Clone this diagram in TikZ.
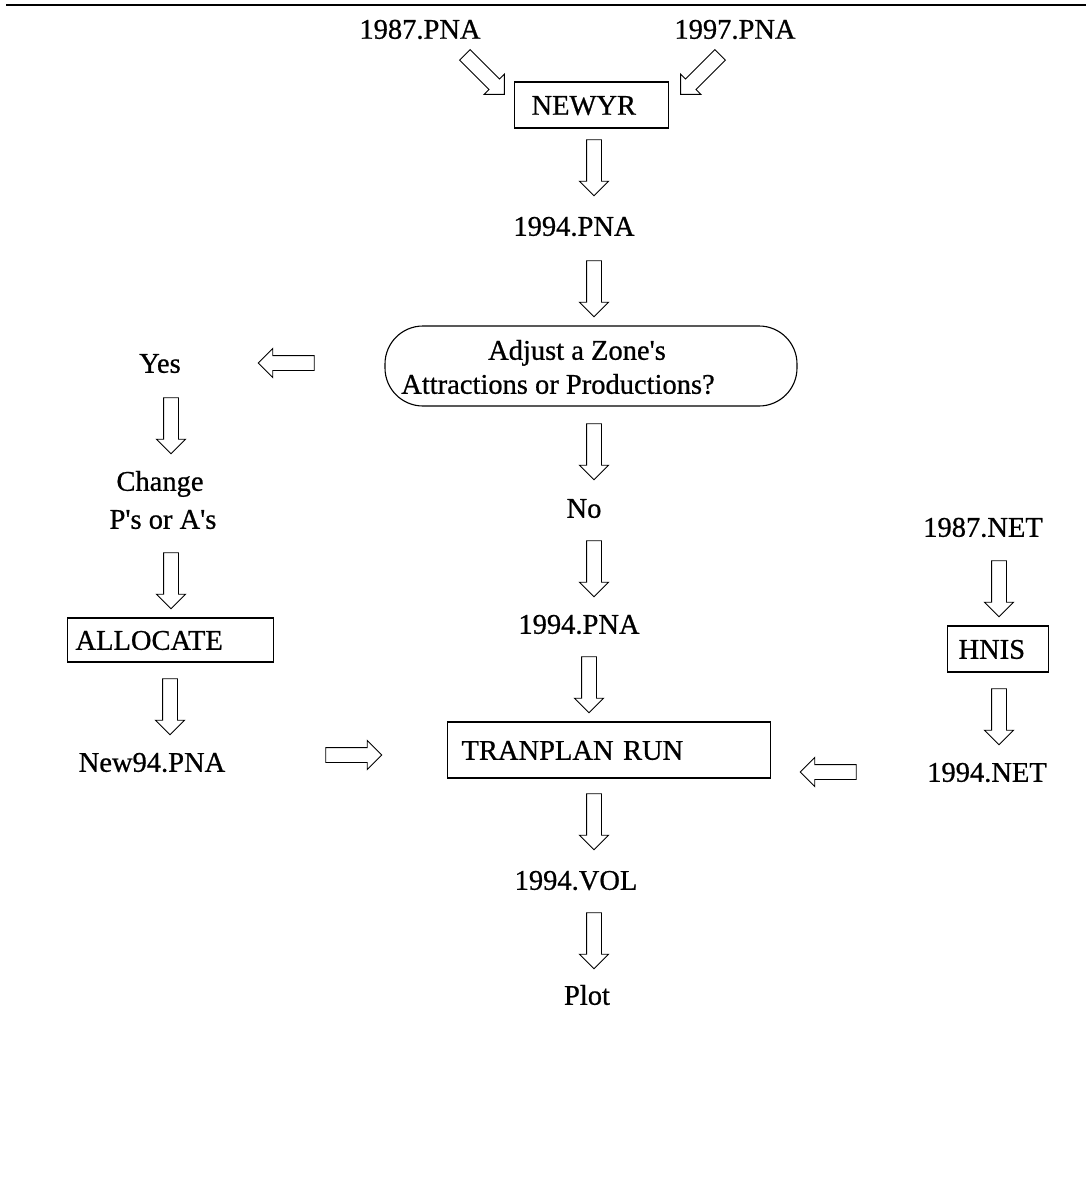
\documentclass[tikz,border=0pt]{standalone}
\usepackage{fontspec}
\setmainfont{Liberation Serif}
\newfontfamily\heavyserif[FakeBold=0.7]{Liberation Serif}
\usetikzlibrary{shapes.arrows,calc}
\begin{document}
\begin{tikzpicture}[x=1pt,y=-1pt,
  lbl/.style={font=\heavyserif\fontsize{28.5}{32}\selectfont, inner sep=0pt, text height=19.5pt, text depth=0pt},
  procbox/.style={draw, line width=1.1pt, font=\heavyserif\fontsize{28.5}{32}\selectfont, align=left, inner ysep=0pt, text height=19.5pt, text depth=0pt, anchor=west},
  stadium/.style={draw, line width=1.1pt, rounded corners=38pt, inner sep=0pt},
  barrow/.style={single arrow, draw, line width=0.9pt, inner xsep=0pt, inner ysep=7pt, single arrow head extend=7pt, single arrow tip angle=90, minimum height=56pt}]
\useasboundingbox (0,0) rectangle (1086,1177);
\draw[line width=2pt] (6,5) -- (1086,5);

% texts
\node[lbl] (p87) at (420,29) {1987.PNA};
\node[lbl] (p97) at (735,29) {1997.PNA};
\node[lbl] (p94a) at (574,226) {1994.PNA};
\node[lbl] (yes) at (160,363) {Yes};
\node[lbl] (chg1) at (160,481) {Change};
\node[lbl] (chg2) at (163,519) {P\textquotesingle s or A\textquotesingle s};
\node[lbl] (new94) at (152,762) {New94.PNA};
\node[lbl] (no) at (584,508) {No};
\node[lbl] (p94b) at (579,624) {1994.PNA};
\node[lbl] (n87) at (983,527) {1987.NET};
\node[lbl] (n94) at (987,772) {1994.NET};
\node[lbl] (vol) at (576,880) {1994.VOL};
\node[lbl] (plot) at (587,995) {Plot};

% boxes
\node[procbox, minimum height=46pt, text width=120pt, inner xsep=17pt] (newyr) at (514,105) {NEWYR};
\node[procbox, minimum height=44pt, text width=190pt, inner xsep=8pt] (alloc) at (67,640) {ALLOCATE};
\node[procbox, minimum height=56pt, text width=295pt, inner xsep=14pt] (tran) at (447,750) {TRANPLAN RUN};
\node[procbox, minimum height=46pt, text width=79pt, inner xsep=11pt] (hnis) at (947,649) {HNIS};
\node[stadium, minimum width=412pt, minimum height=80pt] (adjust) at (591,366) {};
\node[lbl] (adj1) at (577,350) {Adjust a Zone\textquotesingle s};
\node[lbl] (adj2) at (558,384) {Attractions or Productions?};

% block arrows
\node[barrow, rotate=-45] (a1) at (482,72) {};
\node[barrow, rotate=-135] (a2) at (703,72) {};
\node[barrow, rotate=-90] (a3) at (594,164) {};
\node[barrow, rotate=-90] (a4) at (594,285) {};
\node[barrow, rotate=180] (a5) at (290,363) {};
\node[barrow, rotate=-90] (a6) at (594,448) {};
\node[barrow, rotate=-90] (a7) at (594,565) {};
\node[barrow, rotate=-90] (a8) at (589,681) {};
\node[barrow, rotate=-90] (a9) at (594,818) {};
\node[barrow, rotate=-90] (a10) at (594,937) {};
\node[barrow, rotate=-90] (a11) at (171,422) {};
\node[barrow, rotate=-90] (a12) at (171,577) {};
\node[barrow, rotate=-90] (a13) at (170,703) {};
\node[barrow, rotate=0] (a14) at (350,755) {};
\node[barrow, rotate=-90] (a15) at (999,585) {};
\node[barrow, rotate=-90] (a16) at (999,713) {};
\node[barrow, rotate=180] (a17) at (832,772) {};
\end{tikzpicture}
\end{document}
